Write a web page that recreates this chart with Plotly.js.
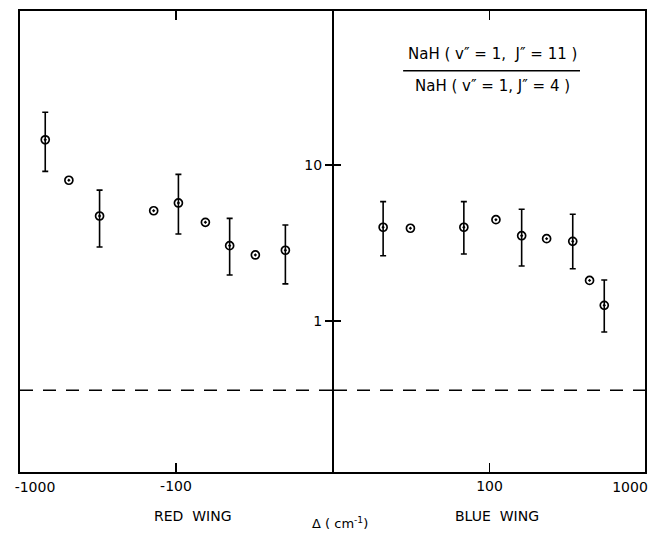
<!DOCTYPE html>
<html>
<head>
<meta charset="utf-8">
<script src="https://cdn.plot.ly/plotly-3.0.1.min.js"></script>
<style>html,body{margin:0;padding:0;background:#fff}#chart{width:649px;height:533px}</style>
</head>
<body>
<div id="chart"></div>
<script>
// ---- data ----
// Red wing (negative detuning, cm^-1)
const redDelta = [-689, -486, -309, -139, -96.5, -64.8, -45.3, -31.0, -19.9];
const redRatio = [14.5, 7.98, 4.71, 5.09, 5.71, 4.29, 3.04, 2.65, 2.84];
const redHigh  = [21.8, null, 6.9, null, 8.7, null, 4.55, null, 4.12];
const redLow   = [9.1, null, 2.98, null, 3.61, null, 1.97, null, 1.73];
// Blue wing (positive detuning, cm^-1)
const blueDelta = [20.7, 31.0, 68.4, 110, 161, 233, 343, 440, 547];
const blueRatio = [3.99, 3.93, 3.99, 4.46, 3.52, 3.37, 3.24, 1.82, 1.26];
const blueHigh  = [5.82, null, 5.82, null, 5.2, null, 4.83, null, 1.83];
const blueLow   = [2.62, null, 2.69, null, 2.25, null, 2.16, null, 0.85];
// horizontal dashed reference level
const dashedLevel = 0.36;
// axis extents and tick labels
const redRange = [-1000, -10];
const blueRange = [10, 1000];
const redTickVals = [-100];
const redTickText = ['-100'];
const redEdgeVals = [-1000];
const redEdgeText = ['-1000'];
const blueTickVals = [100];
const blueTickText = ['100'];
const blueEdgeVals = [1000];
const blueEdgeText = ['1000'];
const yTickVals = [1, 10];
const yTickText = ['1', '10'];

// ---- helpers ----
const num = v => (v === null ? NaN : v);
const plus = (hi, y) => hi.map((h, i) => num(h) - y[i]);
const minus = (lo, y) => lo.map((l, i) => y[i] - num(l));

const FONT = 'DejaVu Sans, Liberation Sans, sans-serif';
const lg = v => Math.log10(v);

const markerStyle = {symbol: 'circle-open-dot', size: 8, color: '#000', line: {width: 1.7, color: '#000'}};
const errStyle = {color: '#000', thickness: 1.6, width: 3};

const traces = [
  {
    x: redDelta.map(d => -d), y: redRatio, xaxis: 'x', yaxis: 'y',
    mode: 'markers', type: 'scatter', marker: markerStyle,
    error_y: Object.assign({type: 'data', symmetric: false,
      array: plus(redHigh, redRatio), arrayminus: minus(redLow, redRatio)}, errStyle),
    hoverinfo: 'skip', showlegend: false
  },
  {
    x: blueDelta, y: blueRatio, xaxis: 'x2', yaxis: 'y2',
    mode: 'markers', type: 'scatter', marker: markerStyle,
    error_y: Object.assign({type: 'data', symmetric: false,
      array: plus(blueHigh, blueRatio), arrayminus: minus(blueLow, blueRatio)}, errStyle),
    hoverinfo: 'skip', showlegend: false
  },
  {
    x: redRange.map(d => -d), y: [dashedLevel, dashedLevel], xaxis: 'x3', yaxis: 'y',
    mode: 'lines', type: 'scatter', line: {color: '#000', width: 1.6, dash: '13px,10px'},
    hoverinfo: 'skip', showlegend: false
  },
  {
    x: blueRange, y: [dashedLevel, dashedLevel], xaxis: 'x4', yaxis: 'y2',
    mode: 'lines', type: 'scatter', line: {color: '#000', width: 1.6, dash: '13px,10px'},
    hoverinfo: 'skip', showlegend: false
  }
];

const yRange = [-0.968, 1.987];
const axCommon = {
  type: 'log', showgrid: false, zeroline: false, showline: true,
  linecolor: '#000', linewidth: 2, tickcolor: '#000', tickwidth: 1.6,
  tickfont: {family: FONT, size: 14, color: '#000'}, minor: {ticks: ''}
};
// plot area is 625 px wide; the shared divider line spans a 2 px gap
const splitL = 312 / 625, splitR = 314 / 625;
const redLogRange = [lg(-redRange[0]), lg(-redRange[1])];
const blueLogRange = [lg(blueRange[0]), lg(blueRange[1])];

const layout = {
  width: 649, height: 533,
  margin: {l: 20, r: 4, t: 11, b: 61},
  paper_bgcolor: '#fff', plot_bgcolor: '#fff',
  showlegend: false,
  xaxis: Object.assign({}, axCommon, {
    domain: [0, splitL], anchor: 'y', range: redLogRange,
    tickmode: 'array', tickvals: redTickVals.map(v => -v), ticktext: redTickText,
    ticks: 'inside', ticklen: 9, mirror: 'ticks', ticklabelstandoff: 0
  }),
  xaxis3: Object.assign({}, axCommon, {
    overlaying: 'x', anchor: 'y', side: 'bottom', range: redLogRange,
    showline: false, ticks: '', ticklabeloverflow: 'allow',
    tickmode: 'array', tickvals: redEdgeVals.map(v => -v), ticktext: redEdgeText,
    ticklabelstandoff: 5, ticklabelshift: -15
  }),
  xaxis2: Object.assign({}, axCommon, {
    domain: [splitR, 1], anchor: 'y2', range: blueLogRange,
    tickmode: 'array', tickvals: blueTickVals, ticktext: blueTickText,
    ticks: 'inside', ticklen: 9, mirror: 'ticks', ticklabelstandoff: 0
  }),
  xaxis4: Object.assign({}, axCommon, {
    overlaying: 'x2', anchor: 'y2', side: 'bottom', range: blueLogRange,
    showline: false, ticks: '', ticklabeloverflow: 'allow',
    tickmode: 'array', tickvals: blueEdgeVals, ticktext: blueEdgeText,
    ticklabelstandoff: 5, ticklabelshift: -15
  }),
  yaxis: Object.assign({}, axCommon, {
    anchor: 'x', side: 'right', range: yRange,
    tickmode: 'array', tickvals: yTickVals, ticktext: yTickText,
    showticklabels: false, ticks: 'outside', ticklen: 7, mirror: true
  }),
  yaxis2: Object.assign({}, axCommon, {
    anchor: 'x2', side: 'left', range: yRange,
    tickmode: 'array', tickvals: yTickVals, ticktext: yTickText,
    ticks: 'outside', ticklen: 7, mirror: true
  }),
  shapes: [
    {type: 'line', xref: 'paper', yref: 'paper', x0: 0.613, x1: 0.896, y0: 0.8705, y1: 0.8705,
     line: {color: '#000', width: 1.6}}
  ],
  annotations: [
    {text: 'NaH ( v\u2033 = 1,  J\u2033 = 11 )', xref: 'paper', yref: 'paper', x: 0.756, y: 0.906,
     showarrow: false, xanchor: 'center', yanchor: 'middle', font: {family: FONT, size: 15, color: '#000'}},
    {text: 'NaH ( v\u2033 = 1, J\u2033 = 4 )', xref: 'paper', yref: 'paper', x: 0.756, y: 0.838,
     showarrow: false, xanchor: 'center', yanchor: 'middle', font: {family: FONT, size: 15, color: '#000'}},
    {text: 'RED  WING', xref: 'paper', yref: 'paper', x: 0.276, y: -0.095,
     showarrow: false, xanchor: 'center', yanchor: 'middle', font: {family: FONT, size: 14, color: '#000'}},
    {text: 'BLUE  WING', xref: 'paper', yref: 'paper', x: 0.763, y: -0.095,
     showarrow: false, xanchor: 'center', yanchor: 'middle', font: {family: FONT, size: 14, color: '#000'}},
    {text: '\u0394 ( cm<sup>-1</sup>)', xref: 'paper', yref: 'paper', x: 0.512, y: -0.1106,
     showarrow: false, xanchor: 'center', yanchor: 'middle', font: {family: FONT, size: 13, color: '#000'}}
  ]
};

Plotly.newPlot('chart', traces, layout, {staticPlot: true, displayModeBar: false});
</script>
</body>
</html>
